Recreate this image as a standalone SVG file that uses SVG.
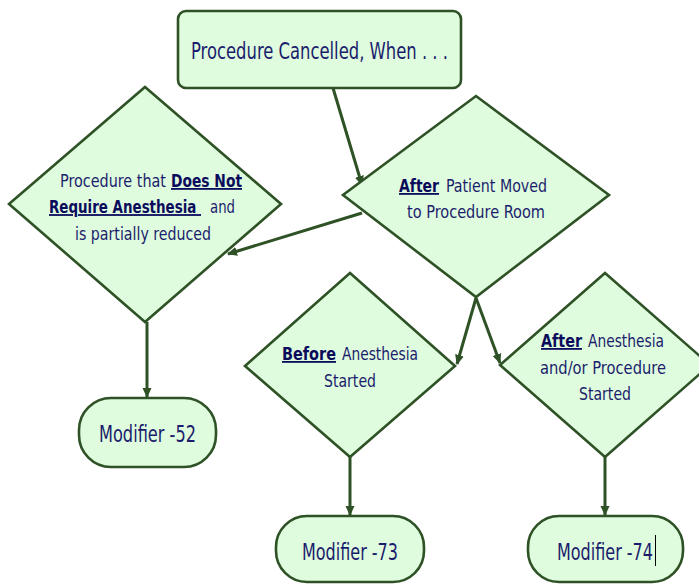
<svg xmlns="http://www.w3.org/2000/svg" width="699" height="584" viewBox="0 0 699 584">
<defs>
<style>
.shape{fill:#dffcdf;stroke:#2e5226;stroke-width:2.6;stroke-linejoin:miter}
.conn{stroke:#2e5226;stroke-width:3;fill:none;marker-end:url(#ah)}
text{font-family:"DejaVu Sans Condensed","DejaVu Sans",sans-serif;fill:#1c1c6c}
.d{font-size:18px}
.m{font-size:23.5px}
.t{font-size:23px}
.b{font-weight:bold;fill:#0b0b5c;text-decoration:underline}
</style>
<marker id="ah" viewBox="0 0 10 10" refX="9" refY="5" markerWidth="10" markerHeight="10" markerUnits="userSpaceOnUse" orient="auto">
<path d="M0,0.5 L10,5 L0,9.5 z" fill="#2e5226"/>
</marker>
</defs>
<rect width="699" height="584" fill="#ffffff"/>
<g id="connectors">
<line class="conn" x1="333" y1="88" x2="362" y2="185"/>
<line class="conn" x1="362" y1="213" x2="228" y2="254"/>
<line class="conn" x1="147" y1="322" x2="147" y2="397"/>
<line class="conn" x1="476" y1="298" x2="457" y2="364"/>
<line class="conn" x1="476" y1="298" x2="500" y2="363"/>
<line class="conn" x1="350" y1="457" x2="350" y2="515"/>
<line class="conn" x1="605" y1="457" x2="605" y2="515"/>
</g>
<g id="start">
<rect class="shape" x="178" y="11" width="283" height="77" rx="8"/>
<text class="t" x="191" y="59" textLength="257" lengthAdjust="spacingAndGlyphs">Procedure Cancelled, When . . .</text>
</g>
<g id="no-anesthesia">
<polygon class="shape" points="145,87 281,204 145,322 9,204"/>
<text class="d" x="60" y="187" textLength="106" lengthAdjust="spacingAndGlyphs">Procedure that</text>
<text class="d b" x="171" y="187" textLength="71" lengthAdjust="spacingAndGlyphs">Does Not</text>
<text class="d b" transform="translate(49,213) scale(0.8,1)" x="0" y="0" textLength="190" lengthAdjust="spacingAndGlyphs" xml:space="preserve">Require Anesthesia </text>
<text class="d" x="210" y="213" textLength="25" lengthAdjust="spacingAndGlyphs">and</text>
<text class="d" x="75" y="240" textLength="136" lengthAdjust="spacingAndGlyphs">is partially reduced</text>
</g>
<g id="after-moved">
<polygon class="shape" points="476,96 609,195 476,297 343,195"/>
<text class="d b" x="399" y="192" textLength="40" lengthAdjust="spacingAndGlyphs">After</text>
<text class="d" x="446" y="192" textLength="101" lengthAdjust="spacingAndGlyphs">Patient Moved</text>
<text class="d" x="407" y="218" textLength="138" lengthAdjust="spacingAndGlyphs">to Procedure Room</text>
</g>
<g id="before-anesthesia">
<polygon class="shape" points="350,273 455,366 350,457 245,366"/>
<text class="d b" x="282" y="360" textLength="54" lengthAdjust="spacingAndGlyphs">Before</text>
<text class="d" x="342" y="360" textLength="76" lengthAdjust="spacingAndGlyphs">Anesthesia</text>
<text class="d" x="324" y="387" textLength="52" lengthAdjust="spacingAndGlyphs">Started</text>
</g>
<g id="after-anesthesia">
<polygon class="shape" points="605,273 710,365 605,457 500,365"/>
<text class="d b" x="541" y="347" textLength="41" lengthAdjust="spacingAndGlyphs">After</text>
<text class="d" x="588" y="347" textLength="76" lengthAdjust="spacingAndGlyphs">Anesthesia</text>
<text class="d" x="540" y="374" textLength="126" lengthAdjust="spacingAndGlyphs">and/or Procedure</text>
<text class="d" x="579" y="400" textLength="52" lengthAdjust="spacingAndGlyphs">Started</text>
</g>
<g id="mod52">
<rect class="shape" x="79" y="398" width="137" height="69" rx="32"/>
<text class="m" x="99" y="442" textLength="97" lengthAdjust="spacingAndGlyphs">Modifier -52</text>
</g>
<g id="mod73">
<rect class="shape" x="276" y="516" width="148" height="66" rx="31"/>
<text class="m" x="302" y="560" textLength="96" lengthAdjust="spacingAndGlyphs">Modifier -73</text>
</g>
<g id="mod74">
<rect class="shape" x="528" y="516" width="155" height="66" rx="31"/>
<text class="m" x="557" y="560" textLength="96" lengthAdjust="spacingAndGlyphs">Modifier -74</text>
<line x1="655.5" y1="535" x2="655.5" y2="566" stroke="#000" stroke-width="1"/>
</g>
</svg>
